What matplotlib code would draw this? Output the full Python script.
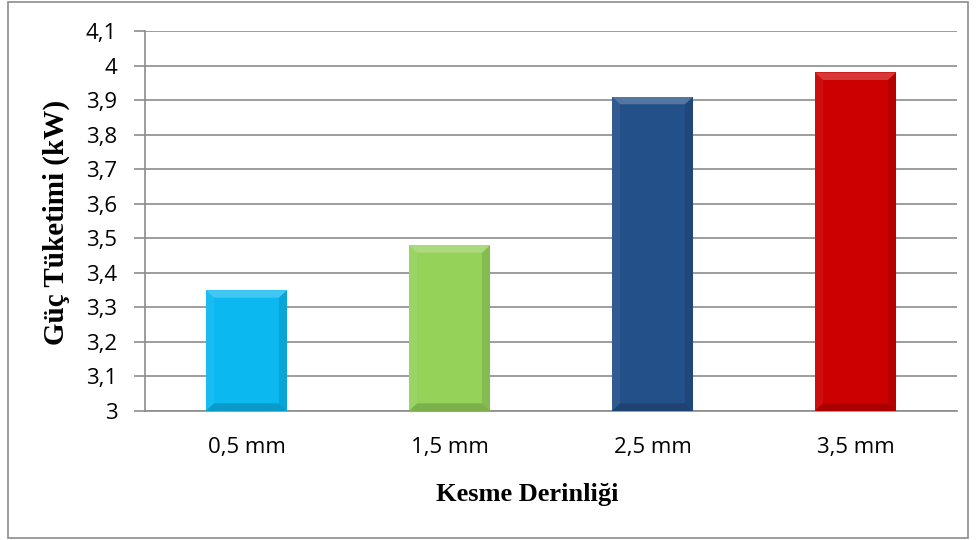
import matplotlib.pyplot as plt
from matplotlib.patches import Polygon, Rectangle

depths = ["0,5 mm", "1,5 mm", "2,5 mm", "3,5 mm"]
power = [3.35, 3.48, 3.91, 3.98]
colors = ["#0BB8F0", "#94D25A", "#24508A", "#CC0000"]
yticks = [3.0, 3.1, 3.2, 3.3, 3.4, 3.5, 3.6, 3.7, 3.8, 3.9, 4.0, 4.1]

fig = plt.figure(figsize=(9.76, 5.4), dpi=100)
ax = fig.add_axes([145 / 976, 129 / 540, 812 / 976, 380 / 540])

x = range(len(depths))
bw = 0.4
ax.bar(x, [p - 3 for p in power], bottom=3, width=bw, color=colors, zorder=3)

# bevel facets on each bar
dx, dy = 0.04, 0.022
for i, p in enumerate(power):
    x0, x1, y0, y1 = i - bw / 2, i + bw / 2, 3.0, p
    top = [(x0, y1), (x1, y1), (x1 - dx, y1 - dy), (x0 + dx, y1 - dy)]
    left = [(x0, y0), (x0, y1), (x0 + dx, y1 - dy), (x0 + dx, y0 + dy)]
    right = [(x1, y0), (x1, y1), (x1 - dx, y1 - dy), (x1 - dx, y0 + dy)]
    bottom = [(x0, y0), (x1, y0), (x1 - dx, y0 + dy), (x0 + dx, y0 + dy)]
    ax.add_patch(Polygon(top, closed=True, fc="white", alpha=0.22, lw=0, zorder=4))
    ax.add_patch(Polygon(left, closed=True, fc="white", alpha=0.06, lw=0, zorder=4))
    ax.add_patch(Polygon(right, closed=True, fc="black", alpha=0.10, lw=0, zorder=4))
    ax.add_patch(Polygon(bottom, closed=True, fc="black", alpha=0.16, lw=0, zorder=4))

ax.set_xlim(-0.5, len(depths) - 0.5)
ax.set_ylim(3.0, 4.1)
ax.set_yticks(yticks)
ax.set_yticklabels([f"{v:g}".replace(".", ",") for v in yticks])
ax.set_xticks(list(x))
ax.set_xticklabels(depths)

ax.grid(axis="y", color="#8C8C8C", lw=1.2, zorder=0)
for s in ["top", "right"]:
    ax.spines[s].set_visible(False)
ax.spines["left"].set_color("#8C8C8C")
ax.spines["bottom"].set_color("#8C8C8C")
ax.spines["left"].set_linewidth(1.2)
ax.spines["bottom"].set_linewidth(1.2)
ax.tick_params(axis="y", length=8, width=1.2, color="#8C8C8C", pad=12,
               labelsize=16)
ax.tick_params(axis="x", length=0, pad=19, labelsize=16)
for lbl in ax.get_xticklabels() + ax.get_yticklabels():
    lbl.set_fontfamily("Open Sans")

fig.text(56 / 976, 1 - 222 / 540, "Güç Tüketimi (kW)", rotation=90,
         ha="center", va="center", fontsize=21, fontweight="bold",
         family="Liberation Serif")
fig.text(527 / 976, 1 - 494 / 540, "Kesme Derinliği", ha="center",
         va="center", fontsize=19, fontweight="bold", family="Liberation Serif")

fig.patches.append(Rectangle((8 / 976, 2 / 540), 960 / 976, 536 / 540,
                             transform=fig.transFigure, fill=False,
                             ec="#8C8C8C", lw=1.2))

fig.savefig("out.png", dpi=100)
